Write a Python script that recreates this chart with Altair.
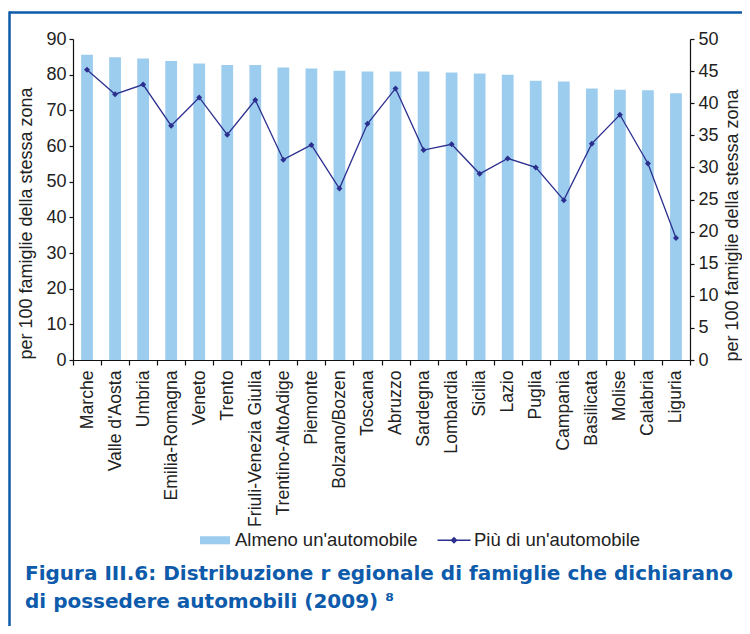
import altair as alt
import pandas as pd

REGIONI = ["Marche", "Valle d'Aosta", "Umbria", "Emilia-Romagna", "Veneto", "Trento",
           "Friuli-Venezia Giulia", "Trentino-AltoAdige", "Piemonte", "Bolzano/Bozen",
           "Toscana", "Abruzzo", "Sardegna", "Lombardia", "Sicilia", "Lazio", "Puglia",
           "Campania", "Basilicata", "Molise", "Calabria", "Liguria"]
ALMENO = [85.6, 84.9, 84.5, 83.8, 83.1, 82.7, 82.7, 82.0, 81.7, 81.1, 80.9,
          80.9, 80.9, 80.6, 80.3, 80.0, 78.3, 78.1, 76.1, 75.8, 75.6, 74.8]
PIU = [45.2, 41.4, 42.9, 36.5, 40.9, 35.1, 40.5, 31.2, 33.5, 26.7, 36.8,
       42.3, 32.7, 33.6, 29.0, 31.4, 30.0, 24.9, 33.7, 38.2, 30.6, 19.0]
SERIE = ["Almeno un'automobile", "Più di un'automobile"]
LEFT_TICKS = [0, 10, 20, 30, 40, 50, 60, 70, 80, 90]
RIGHT_TICKS = [0, 5, 10, 15, 20, 25, 30, 35, 40, 45, 50]
Y_TITLE = "per 100 famiglie della stessa zona"
TITLE = ["Figura III.6: Distribuzione r egionale di famiglie che dichiarano",
         "di possedere automobili (2009) \u2078"]

BAR = "#9DCDEE"
LINE = "#2B2F8E"
BLUE = "#0D5BAA"
FONT = "Liberation Sans"

RECT_PATH = "M-1,-0.27H1V0.27H-1Z"
LINE_PATH = "M-1.1,-0.05H1.1V0.05H-1.1Z M0,-0.24L0.24,0L0,0.24L-0.24,0Z"

df = pd.DataFrame({"regione": REGIONI, "almeno": ALMENO, "piu": PIU})
leg_df = pd.DataFrame({"serie": SERIE})
one = alt.Data(values=[{"k": 1}])

x = alt.X("regione:N", sort=REGIONI,
          scale=alt.Scale(paddingInner=0, paddingOuter=0),
          axis=alt.Axis(title=None, labelAngle=270, labelAlign="right",
                        labelBaseline="middle", tickBand="extent",
                        labelFontSize=17.6, labelPadding=5, tickSize=5))

bars = alt.Chart(df).mark_bar(color=BAR, width=alt.RelativeBandSize(0.42)).encode(
    x=x,
    y=alt.Y("almeno:Q", scale=alt.Scale(domain=[0, 90]),
            axis=alt.Axis(values=LEFT_TICKS, orient="left", title=Y_TITLE,
                          titlePadding=10, titleY=184, tickSize=4, labelPadding=3)),
)

line = alt.Chart(df).mark_line(
    color=LINE, strokeWidth=1.3,
    point=alt.OverlayMarkDef(shape="diamond", filled=True, size=36, color=LINE),
).encode(
    x=x,
    y=alt.Y("piu:Q", scale=alt.Scale(domain=[0, 50]),
            axis=alt.Axis(values=RIGHT_TICKS, orient="right", title=Y_TITLE,
                          titleAngle=270, titleBaseline="top", titlePadding=5,
                          titleY=186, tickSize=4, labelPadding=4)),
)

leg = alt.Legend(title=None, orient="none", legendX=127, legendY=486,
                 direction="horizontal", symbolSize=900, symbolStrokeWidth=0,
                 symbolOpacity=1, labelFontSize=18.5, labelFont=FONT, labelLimit=400,
                 labelColor="#222", labelOffset=5, columnPadding=19)
legend_layer = alt.Chart(leg_df).mark_point(filled=True, opacity=0).encode(
    color=alt.Color("serie:N", scale=alt.Scale(domain=SERIE, range=[BAR, LINE]), legend=leg),
    shape=alt.Shape("serie:N", scale=alt.Scale(domain=SERIE, range=[RECT_PATH, LINE_PATH]), legend=leg),
)

top_rule = alt.Chart(one).mark_rule(color=BLUE, strokeWidth=2.5).encode(
    x=alt.value(-64), x2=alt.value(669), y=alt.value(-26.5))
left_rule = alt.Chart(one).mark_rule(color=BLUE, strokeWidth=2.5).encode(
    x=alt.value(-63.5), y=alt.value(-27.5), y2=alt.value(590))

chart = alt.layer(bars, line, legend_layer, top_rule, left_rule).resolve_scale(
    y="independent"
).properties(
    width=617, height=321,
    autosize=alt.AutoSizeParams(type="none"),
    padding={"left": 65, "top": 31, "right": 52, "bottom": 266},
    title=alt.TitleParams(text=TITLE, orient="bottom", anchor="start", frame="group",
                          dx=-48, offset=-50, baseline="alphabetic",
                          font="DejaVu Sans", fontSize=20,
                          fontWeight="bold", color=BLUE, lineHeight=28),
).configure_view(stroke=None).configure_axis(
    grid=False, domainColor="#111", tickColor="#111", labelColor="#222",
    titleColor="#222", labelFont=FONT, titleFont=FONT, labelFontSize=18,
    titleFontSize=18, titleFontWeight="normal", domainWidth=1.2, tickWidth=1.2,
)

chart.save("out.html", embed_options={"renderer": "svg", "actions": False})
